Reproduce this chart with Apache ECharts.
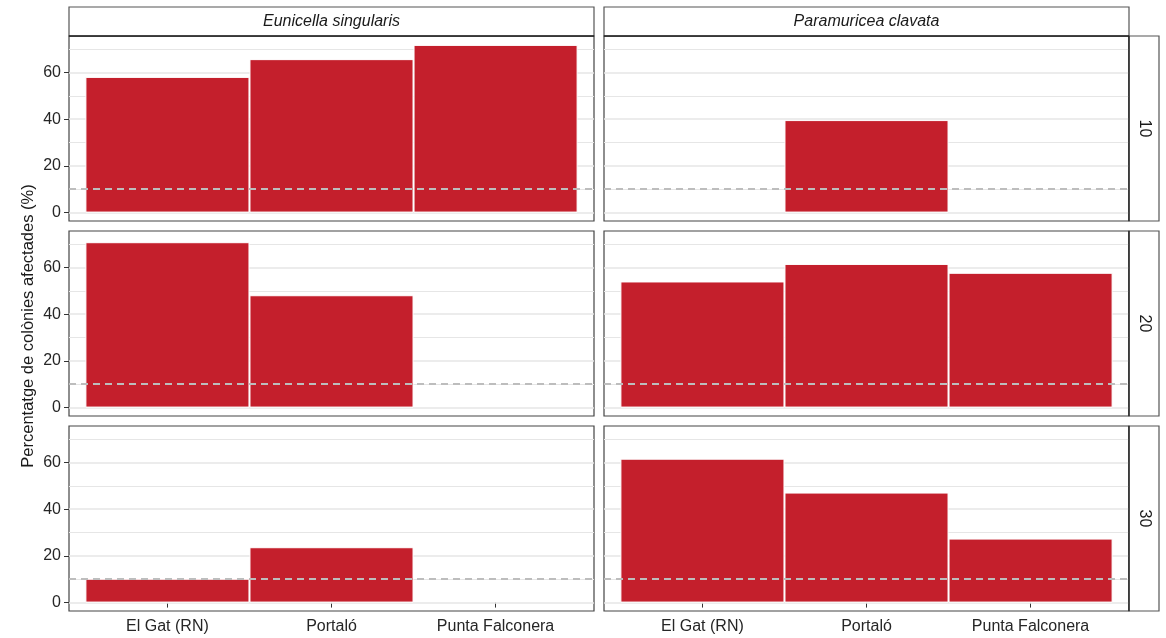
<!DOCTYPE html>
<html>
<head>
<meta charset="utf-8">
<script src="https://cdn.jsdelivr.net/npm/echarts@6/dist/echarts.min.js"></script>
<style>
html,body{margin:0;padding:0;background:#fff;}
#chart{width:1166px;height:638px;}
</style>
</head>
<body>
<div id="chart"></div>
<script>
// ---- data ----
const categories = ['El Gat (RN)', 'Portaló', 'Punta Falconera'];
const species = ['Eunicella singularis', 'Paramuricea clavata'];
const depths = ['10', '20', '30'];
const eunicella10 = [58.1, 65.7, 71.8];
const eunicella20 = [70.8, 48.1, null];
const eunicella30 = [10.2, 23.7, null];
const paramuricea10 = [null, 39.6, null];
const paramuricea20 = [54.0, 61.5, 57.7];
const paramuricea30 = [61.6, 47.1, 27.4];
const yTickValues = [0, 20, 40, 60];
const gridLevels = [0, 10, 20, 30, 40, 50, 60, 70];
const thresholdLevel = 10;
const yTitle = 'Percentatge de colònies afectades (%)';

// panel values indexed [row][col]
const panelValues = [
  [eunicella10, paramuricea10],
  [eunicella20, paramuricea20],
  [eunicella30, paramuricea30]
];

// ---- layout ----
const colLeft = [69, 604];
const panelW = 525;
const rowTop = [36, 231, 426];
const panelH = 185;
const yMin = -3.6, yMax = 75.6;
const xMin = 0.4, xMax = 3.6;
const barW = panelW / (xMax - xMin);
const font = '"Liberation Sans", Arial, Helvetica, sans-serif';
const barColor = '#C41F2C';
const textColor = '#262626';
const fs = 16;

const grids = [], xAxes = [], yAxes = [], series = [], graphics = [];
let gi = 0;
for (let r = 0; r < 3; r++) {
  for (let c = 0; c < 2; c++) {
    grids.push({
      left: colLeft[c], top: rowTop[r], width: panelW, height: panelH,
      show: true, borderColor: '#444', borderWidth: 1.2, backgroundColor: '#fff', containLabel: false
    });
    const bottomRow = r === 2;
    xAxes.push({
      type: 'value', gridIndex: gi, min: xMin, max: xMax,
      axisLine: { show: false },
      splitLine: { show: false },
      axisTick: { show: bottomRow, customValues: [1, 2, 3], length: 5, lineStyle: { color: '#333' } },
      axisLabel: {
        show: bottomRow, customValues: [1, 2, 3], margin: 8,
        color: textColor, fontSize: fs, fontFamily: font,
        formatter: v => categories[Math.round(v) - 1] || ''
      }
    });
    yAxes.push({
      type: 'value', gridIndex: gi, min: yMin, max: yMax,
      axisLine: { show: false },
      splitLine: { show: false },
      axisTick: { show: c === 0, customValues: yTickValues, length: 5, lineStyle: { color: '#333' } },
      axisLabel: {
        show: c === 0, customValues: yTickValues, margin: 8,
        color: textColor, fontSize: fs, fontFamily: font
      }
    });
    const vals = panelValues[r][c];
    const data = [];
    vals.forEach((v, i) => { if (v !== null) data.push([i + 1, v]); });
    // gridlines (behind bars)
    series.push({
      type: 'line', xAxisIndex: gi, yAxisIndex: gi, data: [], silent: true, z: 1,
      markLine: {
        silent: true, symbol: 'none', z: 1, animation: false,
        label: { show: false },
        data: gridLevels.map(l => ({
          yAxis: l,
          lineStyle: { color: '#e6e6e6', width: (l % 20 === 0) ? 1.5 : 1.2, type: 'solid' }
        }))
      }
    });
    // bars
    series.push({
      type: 'bar', xAxisIndex: gi, yAxisIndex: gi, data: data, z: 2,
      barWidth: barW, animation: false,
      itemStyle: { color: barColor, borderColor: '#fff', borderWidth: 1 },
      markLine: {
        silent: true, symbol: 'none', z: 6, animation: false,
        label: { show: false },
        lineStyle: { color: '#bdbdbd', width: 1.8, type: [7, 5] },
        data: [{ yAxis: thresholdLevel }]
      }
    });
    gi++;
  }
}

// strips on top
for (let c = 0; c < 2; c++) {
  graphics.push({
    type: 'rect', shape: { x: colLeft[c], y: 7, width: panelW, height: 29 },
    style: { fill: '#fff', stroke: '#555', lineWidth: 1.2 }, z: 10
  });
  graphics.push({
    type: 'text', x: colLeft[c] + panelW / 2, y: 21.5, z: 11,
    style: { text: species[c], fill: '#1a1a1a', font: 'italic ' + fs + 'px ' + font, textAlign: 'center', textVerticalAlign: 'middle' }
  });
}
// strips on right
for (let r = 0; r < 3; r++) {
  graphics.push({
    type: 'rect', shape: { x: 1129, y: rowTop[r], width: 30, height: panelH },
    style: { fill: '#fff', stroke: '#555', lineWidth: 1.2 }, z: 10
  });
  graphics.push({
    type: 'line', shape: { x1: 1129, y1: rowTop[r], x2: 1129, y2: rowTop[r] + panelH },
    style: { stroke: '#222', lineWidth: 1.3 }, z: 12
  });
  graphics.push({
    type: 'text', x: 1144, y: rowTop[r] + panelH / 2, rotation: -Math.PI / 2, z: 11,
    style: { text: depths[r], fill: '#1a1a1a', font: fs + 'px ' + font, textAlign: 'center', textVerticalAlign: 'middle' }
  });
}
for (let c = 0; c < 2; c++) {
  graphics.push({
    type: 'line', shape: { x1: colLeft[c], y1: 36, x2: colLeft[c] + panelW, y2: 36 },
    style: { stroke: '#222', lineWidth: 1.3 }, z: 12
  });
}
// y title
graphics.push({
  type: 'text', x: 28, y: 326, rotation: Math.PI / 2, z: 11,
  style: { text: yTitle, fill: '#1a1a1a', font: '16.5px ' + font, textAlign: 'center', textVerticalAlign: 'middle' }
});

const chart = echarts.init(document.getElementById('chart'), null, { renderer: 'canvas' });
chart.setOption({
  animation: false,
  backgroundColor: '#fff',
  grid: grids,
  xAxis: xAxes,
  yAxis: yAxes,
  series: series,
  graphic: { elements: graphics }
});
</script>
</body>
</html>
